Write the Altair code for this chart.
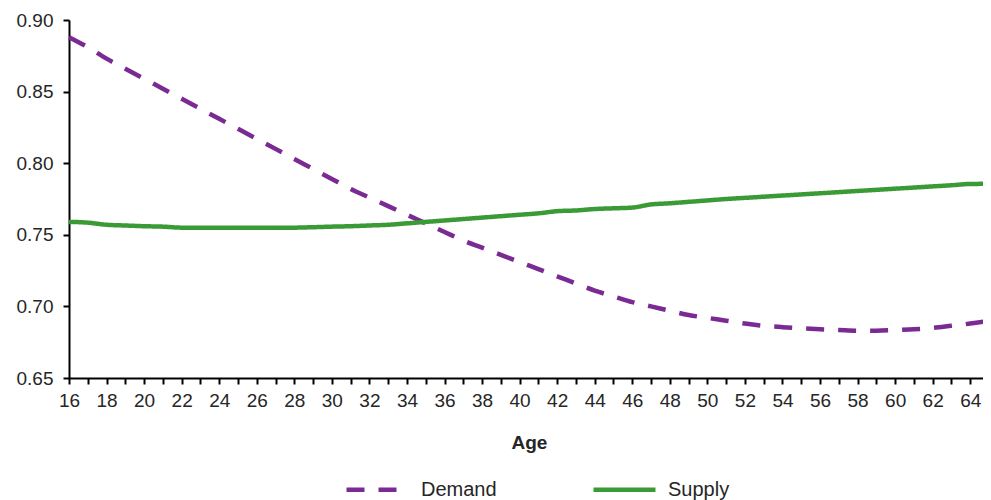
import altair as alt
import pandas as pd

ages = list(range(16, 66))
demand = [0.888, 0.881, 0.873, 0.866, 0.859, 0.852, 0.845, 0.838, 0.831, 0.824,
          0.817, 0.810, 0.803, 0.796, 0.789, 0.782, 0.776, 0.770, 0.764, 0.758,
          0.752, 0.746, 0.741, 0.736, 0.731, 0.726, 0.721, 0.716, 0.711, 0.707,
          0.703, 0.700, 0.697, 0.694, 0.692, 0.690, 0.688, 0.6865, 0.6855, 0.6847,
          0.684, 0.6835, 0.683, 0.683, 0.6835, 0.684, 0.685, 0.6865, 0.688, 0.690]
supply = [0.759, 0.7585, 0.757, 0.7565, 0.756, 0.7557, 0.755, 0.755, 0.755, 0.755,
          0.755, 0.755, 0.755, 0.7553, 0.7557, 0.756, 0.7565, 0.757, 0.758, 0.759,
          0.760, 0.761, 0.762, 0.763, 0.764, 0.765, 0.7665, 0.767, 0.768, 0.7685,
          0.769, 0.7712, 0.772, 0.773, 0.774, 0.775, 0.7758, 0.7766, 0.7774, 0.7782,
          0.779, 0.7798, 0.7806, 0.7814, 0.7822, 0.783, 0.7838, 0.7846, 0.7855, 0.7856]
series_names = ["Demand", "Supply"]
series_colors = ["#7A2A92", "#3A9A35"]
series_dashes = [[18, 14], [1, 0]]
y_ticks = [0.65, 0.70, 0.75, 0.80, 0.85, 0.90]

df = pd.DataFrame({
    "Age": ages + ages,
    "Value": demand + supply,
    "Series": [series_names[0]] * len(ages) + [series_names[1]] * len(ages),
})

FONT = "Liberation Sans"
TXT = "#262626"

legend = alt.Legend(
    title=None,
    orient="none",
    direction="horizontal",
    legendX=275,
    legendY=436,
    symbolType="stroke",
    symbolSize=3844,
    symbolStrokeWidth=4.5,
    labelFontSize=20,
    labelFont=FONT,
    labelColor=TXT,
    labelOffset=10,
    columnPadding=87,
    padding=0,
)

chart = alt.Chart(df).mark_line(strokeWidth=4.5, interpolate="monotone").encode(
    x=alt.X(
        "Age:Q",
        scale=alt.Scale(domain=[16, 65], nice=False, zero=False),
        axis=alt.Axis(
            values=ages,
            labelExpr="datum.value % 2 == 0 ? datum.label : ''",
            title="Age",
            grid=False,
            domainColor="#000000",
            domainWidth=2,
            tickColor="#000000",
            tickWidth=2,
            tickSize=6,
            labelFontSize=19,
            labelFont=FONT,
            labelColor=TXT,
            labelPadding=7,
            labelFlush=False,
            labelOverlap=False,
            titleFontSize=19,
            titleFont=FONT,
            titleFontWeight="bold",
            titleColor=TXT,
            titlePadding=23,
        ),
    ),
    y=alt.Y(
        "Value:Q",
        scale=alt.Scale(domain=[0.65, 0.90], nice=False, zero=False),
        axis=alt.Axis(
            values=y_ticks,
            format=".2f",
            title=None,
            grid=False,
            domainColor="#000000",
            domainWidth=2,
            tickColor="#000000",
            tickWidth=2,
            tickSize=6,
            labelFontSize=19,
            labelFont=FONT,
            labelColor=TXT,
            labelPadding=10,
            labelFlush=False,
        ),
    ),
    color=alt.Color("Series:N", scale=alt.Scale(domain=series_names, range=series_colors), legend=legend),
    strokeDash=alt.StrokeDash("Series:N", scale=alt.Scale(domain=series_names, range=series_dashes), legend=legend),
).properties(
    width=920,
    height=358,
    autosize=alt.AutoSizeParams(type="none"),
    padding={"left": 61, "top": 12, "right": -6, "bottom": 122},
    background="white",
).configure_view(stroke=None)

chart.save("out.html", embed_options={"renderer": "svg", "actions": False})
